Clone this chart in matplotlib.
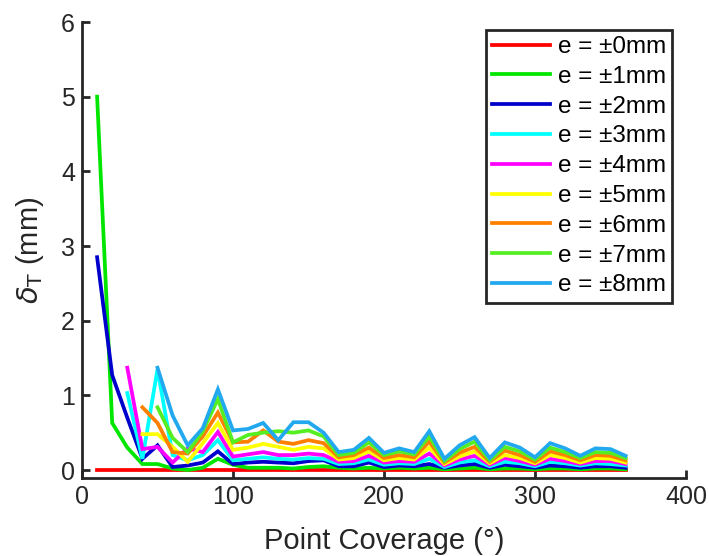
import numpy as np
import matplotlib
matplotlib.use("Agg")
import matplotlib.pyplot as plt

plt.rcParams['font.family'] = ['Liberation Sans', 'DejaVu Sans']

coverage = list(range(10, 361, 10))
nan = float('nan')

e0 = [0.0] * 36
e1 = [5.00, 0.63, 0.30, 0.08, 0.08, 0.02, 0.00, 0.03, 0.15, 0.07, 0.03, 0.03, 0.03, 0.02, 0.04, 0.05, 0.03, 0.02,
      0.03, 0.02, 0.03, 0.02, 0.03, 0.01, 0.02, 0.03, 0.01, 0.02, 0.02, 0.01, 0.02, 0.02, 0.01, 0.02, 0.02, 0.01]
e2 = [2.85, 1.27, 0.70, 0.15, 0.33, 0.04, 0.06, 0.10, 0.25, 0.08, 0.10, 0.11, 0.10, 0.09, 0.12, 0.13, 0.05, 0.05,
      0.10, 0.04, 0.06, 0.05, 0.08, 0.03, 0.06, 0.08, 0.03, 0.07, 0.05, 0.03, 0.06, 0.05, 0.03, 0.05, 0.05, 0.03]
e3 = [nan, nan, 1.03, 0.15, 1.35, 0.20, 0.13, 0.20, 0.40, 0.13, 0.15, 0.17, 0.15, 0.14, 0.16, 0.15, 0.08, 0.09,
      0.14, 0.07, 0.09, 0.08, 0.15, 0.04, 0.10, 0.13, 0.05, 0.11, 0.09, 0.05, 0.11, 0.09, 0.06, 0.09, 0.08, 0.06]
e4 = [nan, nan, 1.37, 0.28, 0.31, 0.10, 0.29, 0.24, 0.51, 0.18, 0.21, 0.24, 0.20, 0.20, 0.22, 0.20, 0.11, 0.12,
      0.19, 0.10, 0.12, 0.11, 0.22, 0.06, 0.14, 0.19, 0.07, 0.16, 0.12, 0.07, 0.15, 0.12, 0.08, 0.12, 0.12, 0.08]
e5 = [nan, nan, nan, 0.48, 0.48, 0.31, 0.11, 0.36, 0.63, 0.27, 0.30, 0.35, 0.31, 0.27, 0.31, 0.29, 0.14, 0.16,
      0.25, 0.13, 0.16, 0.14, 0.30, 0.08, 0.18, 0.25, 0.09, 0.20, 0.16, 0.09, 0.20, 0.16, 0.10, 0.16, 0.15, 0.10]
e6 = [nan, nan, nan, 0.84, 0.63, 0.24, 0.22, 0.45, 0.77, 0.37, 0.38, 0.53, 0.38, 0.35, 0.40, 0.36, 0.17, 0.20,
      0.30, 0.16, 0.20, 0.17, 0.38, 0.10, 0.23, 0.31, 0.11, 0.26, 0.20, 0.11, 0.25, 0.20, 0.13, 0.20, 0.19, 0.13]
e7 = [nan, nan, nan, nan, 0.84, 0.43, 0.24, 0.52, 0.95, 0.37, 0.47, 0.50, 0.52, 0.50, 0.53, 0.45, 0.20, 0.23,
      0.37, 0.20, 0.25, 0.21, 0.45, 0.12, 0.28, 0.38, 0.13, 0.31, 0.25, 0.14, 0.30, 0.24, 0.16, 0.24, 0.23, 0.16]
e8 = [nan, nan, nan, nan, 1.37, 0.73, 0.33, 0.56, 1.08, 0.53, 0.55, 0.63, 0.40, 0.64, 0.64, 0.50, 0.24, 0.27,
      0.43, 0.23, 0.29, 0.24, 0.52, 0.15, 0.33, 0.44, 0.16, 0.37, 0.30, 0.17, 0.36, 0.29, 0.19, 0.29, 0.28, 0.19]

series = [e0, e1, e2, e3, e4, e5, e6, e7, e8]
labels = ['e = \u00b10mm', 'e = \u00b11mm', 'e = \u00b12mm', 'e = \u00b13mm', 'e = \u00b14mm',
          'e = \u00b15mm', 'e = \u00b16mm', 'e = \u00b17mm', 'e = \u00b18mm']
colors = ['#FF0000', '#00E600', '#0000CC', '#00FFFF', '#FF00FF', '#FFFF00', '#FF8000', '#55EE22', '#22A8EE']

fig = plt.figure(figsize=(7.09, 5.56), dpi=100)
ax = fig.add_axes([82/709, 1 - 478/556, 604/709, 456/556])

for ys, lab, c in zip(series, labels, colors):
    ax.plot(coverage, ys, color=c, lw=2.7, label=lab, solid_joinstyle='miter')

ax.set_xlim(0, 400)
ax.set_ylim(-0.107, 6.0)
ax.set_xticks([0, 100, 200, 300, 400])
ax.set_yticks([0, 1, 2, 3, 4, 5, 6])
for s in ['top', 'right']:
    ax.spines[s].set_visible(False)
for s in ['left', 'bottom']:
    ax.spines[s].set_linewidth(2.0)
    ax.spines[s].set_color('#262626')
ax.tick_params(direction='in', length=6, width=2.0, colors='#262626', labelsize=18, pad=5)
ax.set_xlabel('Point Coverage (\u00b0)', fontsize=21, color='#262626', labelpad=13)
ax.set_ylabel(r'$\delta_\mathrm{T}$ (mm)', fontsize=21, color='#262626', labelpad=11)

leg = ax.legend(loc='upper right', bbox_to_anchor=(672/709, 1 - 30/556), bbox_transform=fig.transFigure,
                borderaxespad=0, fancybox=False, fontsize=17.5, handlelength=2.4, handletextpad=0.3,
                labelspacing=0.32, borderpad=0.25, framealpha=1)
leg.get_frame().set_edgecolor('#262626')
leg.get_frame().set_linewidth(2.0)

fig.savefig('out.png', dpi=100)
